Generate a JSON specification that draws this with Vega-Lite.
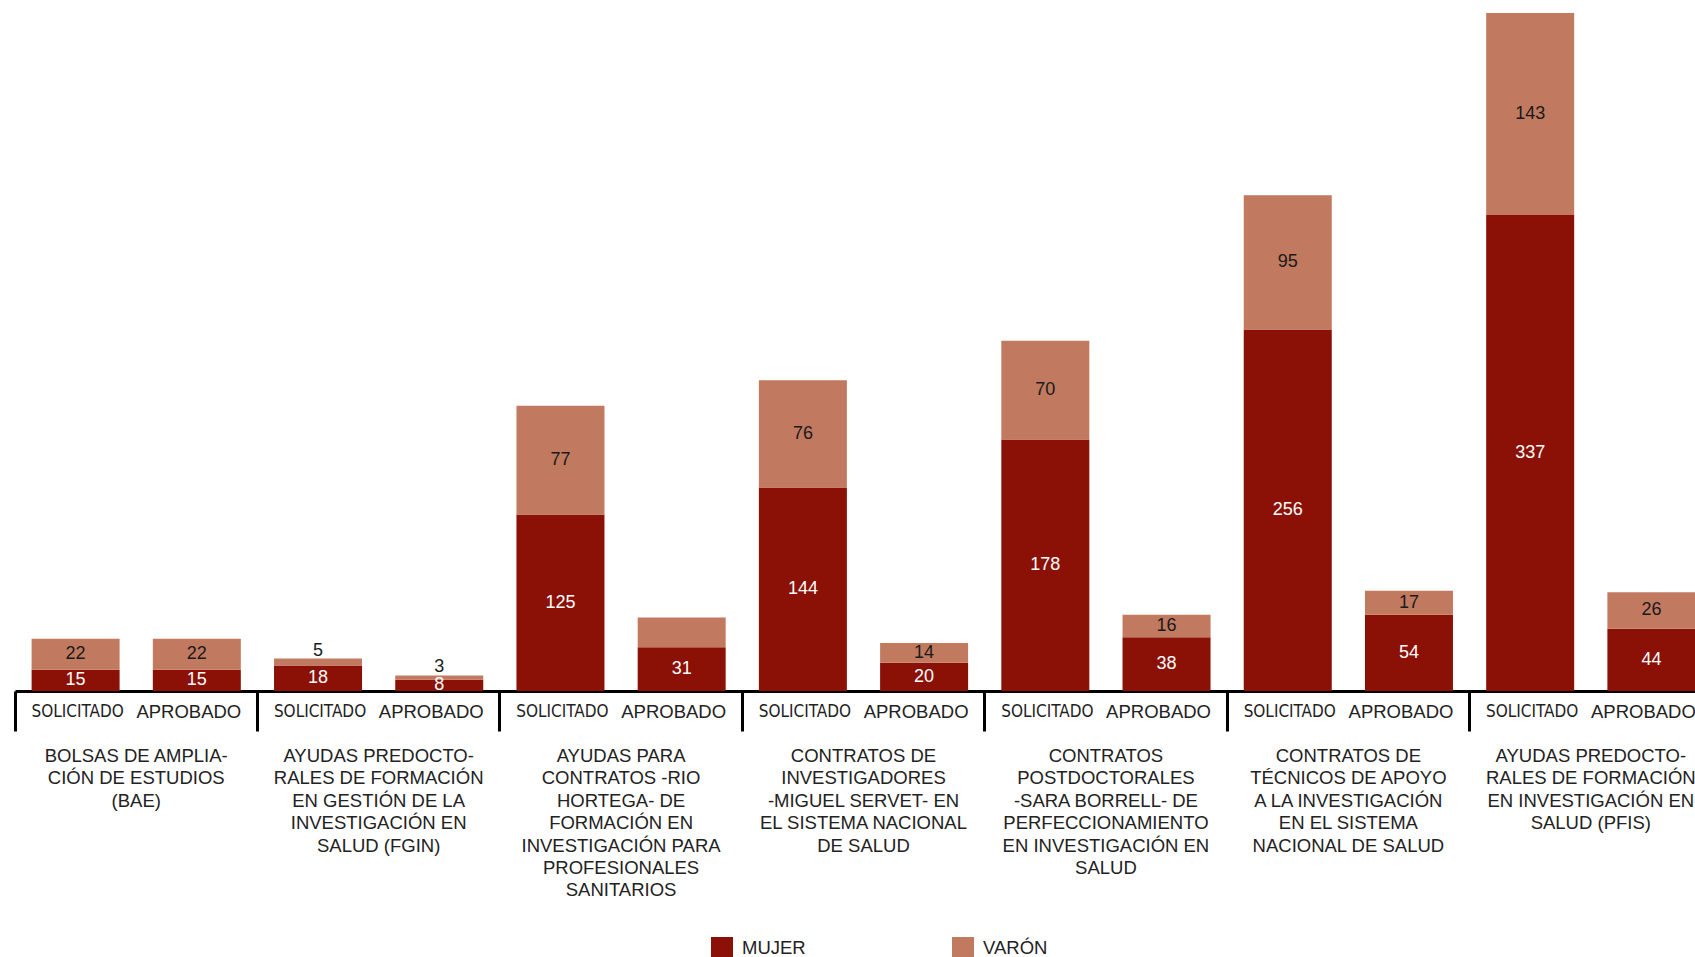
{
  "$schema": "https://vega.github.io/schema/vega-lite/v6.json",
  "width": 1697,
  "height": 678,
  "autosize": {"type": "none"},
  "padding": {"left": 15, "top": 13, "right": 0, "bottom": 266},
  "background": "white",
  "config": {"view": {"stroke": null}, "font": "Liberation Sans"},
  "datasets": {
    "barras": [
      {"grupo": "BAE", "tipo": "SOLICITADO", "sexo": "MUJER", "valor": 15, "etiqueta": true},
      {"grupo": "BAE", "tipo": "SOLICITADO", "sexo": "VARÓN", "valor": 22, "etiqueta": true},
      {"grupo": "BAE", "tipo": "APROBADO", "sexo": "MUJER", "valor": 15, "etiqueta": true},
      {"grupo": "BAE", "tipo": "APROBADO", "sexo": "VARÓN", "valor": 22, "etiqueta": true},
      {"grupo": "FGIN", "tipo": "SOLICITADO", "sexo": "MUJER", "valor": 18, "etiqueta": true},
      {"grupo": "FGIN", "tipo": "SOLICITADO", "sexo": "VARÓN", "valor": 5, "etiqueta": true},
      {"grupo": "FGIN", "tipo": "APROBADO", "sexo": "MUJER", "valor": 8, "etiqueta": true},
      {"grupo": "FGIN", "tipo": "APROBADO", "sexo": "VARÓN", "valor": 3, "etiqueta": true},
      {"grupo": "RIO", "tipo": "SOLICITADO", "sexo": "MUJER", "valor": 125, "etiqueta": true},
      {"grupo": "RIO", "tipo": "SOLICITADO", "sexo": "VARÓN", "valor": 77, "etiqueta": true},
      {"grupo": "RIO", "tipo": "APROBADO", "sexo": "MUJER", "valor": 31, "etiqueta": true},
      {"grupo": "RIO", "tipo": "APROBADO", "sexo": "VARÓN", "valor": 21, "etiqueta": false},
      {"grupo": "MS", "tipo": "SOLICITADO", "sexo": "MUJER", "valor": 144, "etiqueta": true},
      {"grupo": "MS", "tipo": "SOLICITADO", "sexo": "VARÓN", "valor": 76, "etiqueta": true},
      {"grupo": "MS", "tipo": "APROBADO", "sexo": "MUJER", "valor": 20, "etiqueta": true},
      {"grupo": "MS", "tipo": "APROBADO", "sexo": "VARÓN", "valor": 14, "etiqueta": true},
      {"grupo": "SB", "tipo": "SOLICITADO", "sexo": "MUJER", "valor": 178, "etiqueta": true},
      {"grupo": "SB", "tipo": "SOLICITADO", "sexo": "VARÓN", "valor": 70, "etiqueta": true},
      {"grupo": "SB", "tipo": "APROBADO", "sexo": "MUJER", "valor": 38, "etiqueta": true},
      {"grupo": "SB", "tipo": "APROBADO", "sexo": "VARÓN", "valor": 16, "etiqueta": true},
      {"grupo": "TEC", "tipo": "SOLICITADO", "sexo": "MUJER", "valor": 256, "etiqueta": true},
      {"grupo": "TEC", "tipo": "SOLICITADO", "sexo": "VARÓN", "valor": 95, "etiqueta": true},
      {"grupo": "TEC", "tipo": "APROBADO", "sexo": "MUJER", "valor": 54, "etiqueta": true},
      {"grupo": "TEC", "tipo": "APROBADO", "sexo": "VARÓN", "valor": 17, "etiqueta": true},
      {"grupo": "PFIS", "tipo": "SOLICITADO", "sexo": "MUJER", "valor": 337, "etiqueta": true},
      {"grupo": "PFIS", "tipo": "SOLICITADO", "sexo": "VARÓN", "valor": 143, "etiqueta": true},
      {"grupo": "PFIS", "tipo": "APROBADO", "sexo": "MUJER", "valor": 44, "etiqueta": true},
      {"grupo": "PFIS", "tipo": "APROBADO", "sexo": "VARÓN", "valor": 26, "etiqueta": true}
    ],
    "grupos": [
      {"grupo": "BAE", "nombre": "BOLSAS DE AMPLIA-\nCIÓN DE ESTUDIOS\n(BAE)"},
      {"grupo": "FGIN", "nombre": "AYUDAS PREDOCTO-\nRALES DE FORMACIÓN\nEN GESTIÓN DE LA\nINVESTIGACIÓN EN\nSALUD (FGIN)"},
      {"grupo": "RIO", "nombre": "AYUDAS PARA\nCONTRATOS -RIO\nHORTEGA- DE\nFORMACIÓN EN\nINVESTIGACIÓN PARA\nPROFESIONALES\nSANITARIOS"},
      {"grupo": "MS", "nombre": "CONTRATOS DE\nINVESTIGADORES\n-MIGUEL SERVET- EN\nEL SISTEMA NACIONAL\nDE SALUD"},
      {"grupo": "SB", "nombre": "CONTRATOS\nPOSTDOCTORALES\n-SARA BORRELL- DE\nPERFECCIONAMIENTO\nEN INVESTIGACIÓN EN\nSALUD"},
      {"grupo": "TEC", "nombre": "CONTRATOS DE\nTÉCNICOS DE APOYO\nA LA INVESTIGACIÓN\nEN EL SISTEMA\nNACIONAL DE SALUD"},
      {"grupo": "PFIS", "nombre": "AYUDAS PREDOCTO-\nRALES DE FORMACIÓN\nEN INVESTIGACIÓN EN\nSALUD (PFIS)"}
    ]
  },
  "data": {"name": "barras"},
  "encoding": {
    "x": {
      "field": "grupo",
      "type": "nominal",
      "scale": {"domain": ["BAE", "FGIN", "RIO", "MS", "SB", "TEC", "PFIS"], "paddingInner": 0, "paddingOuter": 0},
      "axis": {
        "title": null,
        "labels": false,
        "grid": false,
        "domain": true,
        "domainColor": "#000000",
        "domainWidth": 3,
        "ticks": true,
        "tickColor": "#000000",
        "tickWidth": 3,
        "tickSize": 40,
        "bandPosition": 0
      }
    }
  },
  "layer": [
    {
      "mark": {"type": "bar"},
      "encoding": {
        "xOffset": {"field": "tipo", "type": "nominal", "scale": {"domain": ["SOLICITADO", "APROBADO"], "paddingInner": 0.274, "paddingOuter": 0.137}},
        "y": {"field": "valor", "type": "quantitative", "stack": "zero", "scale": {"domain": [0, 480], "nice": false, "zero": true}, "axis": null},
        "order": {"field": "sexo", "type": "ordinal", "sort": "ascending"},
        "color": {
          "field": "sexo",
          "type": "nominal",
          "scale": {"domain": ["MUJER", "VARÓN"], "range": ["#8B1005", "#C17960"]},
          "legend": {
            "orient": "none",
            "legendX": 696,
            "legendY": 924,
            "direction": "horizontal",
            "title": null,
            "symbolType": "square",
            "symbolSize": 484,
            "symbolStrokeWidth": 0,
            "symbolOpacity": 1,
            "labelFont": "Liberation Sans",
            "labelFontSize": 18.5,
            "labelColor": "#222222",
            "labelOffset": 9,
            "columnPadding": 146,
            "padding": 0
          }
        }
      }
    },
    {
      "transform": [{"filter": "!(datum.sexo === 'VARÓN' && datum.valor < 8)"}],
      "mark": {"type": "text", "fontSize": 18, "baseline": "middle", "align": "center"},
      "encoding": {
        "xOffset": {"field": "tipo", "type": "nominal"},
        "y": {"field": "valor", "type": "quantitative", "stack": "zero", "bandPosition": 0.5},
        "detail": {"field": "sexo", "type": "nominal"},
        "order": {"field": "sexo", "type": "ordinal", "sort": "ascending"},
        "text": {"condition": {"test": "datum.etiqueta === false", "value": ""}, "field": "valor", "type": "quantitative"},
        "color": {"condition": {"test": "datum.sexo === 'MUJER'", "value": "#ffffff"}, "value": "#1a1a1a"}
      }
    },
    {
      "transform": [
        {"stack": "valor", "groupby": ["grupo", "tipo"], "sort": [{"field": "sexo", "order": "ascending"}], "as": ["v0", "v1"]},
        {"filter": "datum.sexo === 'VARÓN' && datum.valor < 8"}
      ],
      "mark": {"type": "text", "fontSize": 18, "baseline": "bottom", "align": "center", "dy": 1, "color": "#1a1a1a"},
      "encoding": {
        "xOffset": {"field": "tipo", "type": "nominal"},
        "y": {"field": "v1", "type": "quantitative"},
        "text": {"field": "valor", "type": "quantitative"}
      }
    },
    {
      "transform": [{"filter": "datum.sexo === 'MUJER' && datum.tipo === 'SOLICITADO'"}],
      "mark": {"type": "text", "font": "DejaVu Sans Condensed", "fontSize": 17, "baseline": "middle", "align": "center", "dy": 21, "dx": 2, "color": "#222222"},
      "encoding": {
        "xOffset": {"field": "tipo", "type": "nominal"},
        "y": {"datum": 0},
        "text": {"field": "tipo", "type": "nominal"}
      }
    },
    {
      "transform": [{"filter": "datum.sexo === 'MUJER' && datum.tipo === 'APROBADO'"}],
      "mark": {"type": "text", "fontSize": 18.5, "baseline": "middle", "align": "center", "dy": 21, "dx": -8, "color": "#222222"},
      "encoding": {
        "xOffset": {"field": "tipo", "type": "nominal"},
        "y": {"datum": 0},
        "text": {"field": "tipo", "type": "nominal"}
      }
    },
    {
      "data": {"name": "grupos"},
      "mark": {"type": "text", "fontSize": 18.5, "baseline": "top", "align": "center", "dy": 56, "lineBreak": "\n", "lineHeight": 22.4, "color": "#222222"},
      "encoding": {
        "y": {"datum": 0},
        "text": {"field": "nombre", "type": "nominal"}
      }
    }
  ]
}
